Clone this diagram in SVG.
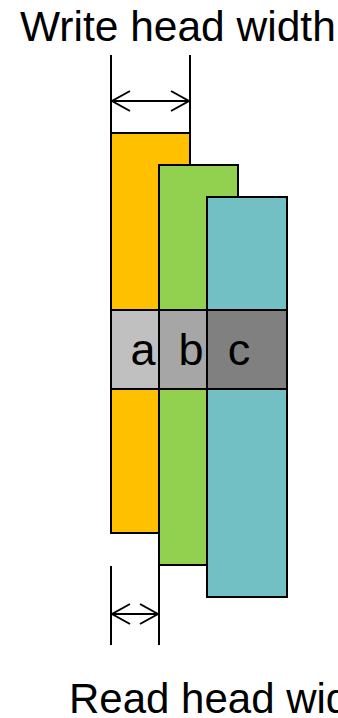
<svg xmlns="http://www.w3.org/2000/svg" width="338" height="718" viewBox="0 0 338 718">
<style>
.blk{stroke:#000;stroke-width:2;}
.ln{stroke:#000;stroke-width:2;fill:none;}
.lbl{font-family:"Liberation Sans",Arial,sans-serif;fill:#000;}
</style>
<defs>
<marker id="ah" viewBox="0 0 22 22" refX="20" refY="11" markerWidth="22" markerHeight="22" markerUnits="userSpaceOnUse" orient="auto-start-reverse">
<path d="M2,1 L20,11 L2,21" fill="none" stroke="#000" stroke-width="2"/>
</marker>
</defs>
<rect width="338" height="718" fill="#fff"/>
<g id="orange"><rect class="blk" x="111" y="133" width="79" height="400" fill="#ffc000"/></g>
<g id="green"><rect class="blk" x="159" y="165" width="79" height="400" fill="#92d050"/></g>
<g id="teal"><rect class="blk" x="207" y="197" width="80" height="400" fill="#72c0c4"/></g>
<g id="cell-a"><rect class="blk" x="111" y="310" width="48" height="79" fill="#c0c0c0"/><text class="lbl" x="143" y="365" font-size="45" text-anchor="middle">a</text></g>
<g id="cell-b"><rect class="blk" x="159" y="310" width="48" height="79" fill="#a6a6a6"/><text class="lbl" x="191" y="365" font-size="45" text-anchor="middle">b</text></g>
<g id="cell-c"><rect class="blk" x="207" y="310" width="80" height="79" fill="#808080"/><text class="lbl" x="239" y="365" font-size="45" text-anchor="middle">c</text></g>
<g id="connectors">
<line class="ln" x1="111" y1="55" x2="111" y2="133"/>
<line class="ln" x1="190" y1="55" x2="190" y2="133"/>
<line class="ln" x1="112" y1="101" x2="189" y2="101" marker-start="url(#ah)" marker-end="url(#ah)"/>
<line class="ln" x1="111" y1="566" x2="111" y2="645"/>
<line class="ln" x1="159" y1="565" x2="159" y2="645"/>
<line class="ln" x1="112" y1="614" x2="158" y2="614" marker-start="url(#ah)" marker-end="url(#ah)"/>
</g>
<g id="title-write"><text class="lbl" x="20" y="41" font-size="42.5">Write head width</text></g>
<g id="title-read"><text class="lbl" x="69" y="713" font-size="42">Read head width</text></g>
</svg>
